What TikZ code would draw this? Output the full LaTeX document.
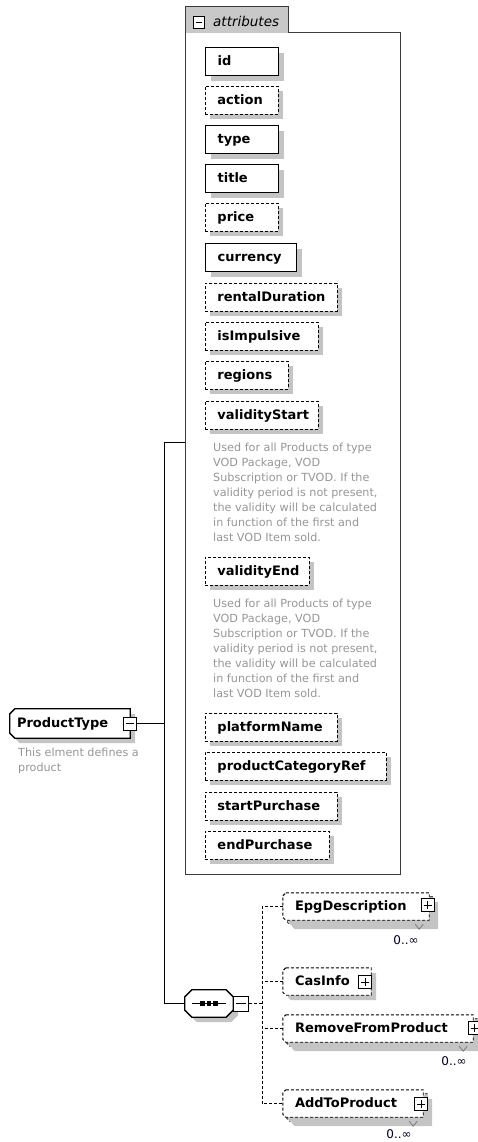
\documentclass[tikz,border=0pt]{standalone}
\usepackage{fontspec}
\setmainfont{DejaVu Sans}
\usetikzlibrary{backgrounds}

\definecolor{shadowgrey}{RGB}{196,196,196}
\definecolor{tabgrey}{RGB}{200,200,200}
\definecolor{framegrey}{RGB}{60,60,60}
\definecolor{notegrey}{RGB}{150,150,150}

% outline with the two left corners cut off, plus its drop shadow
\newcommand\leftcutshape[3]{%
  \fill[shadowgrey, transform canvas={shift={(5pt,-5pt)}}]
    ([xshift=#2]#1.north west) -- (#1.north east) -- (#1.south east) -- ([xshift=#2]#1.south west)
    -- ([yshift=#2]#1.south west) -- ([yshift=-#2]#1.north west) -- cycle;
  \path[fill=white, draw=black, #3]
    ([xshift=#2]#1.north west) -- (#1.north east) -- (#1.south east) -- ([xshift=#2]#1.south west)
    -- ([yshift=#2]#1.south west) -- ([yshift=-#2]#1.north west) -- cycle;
}
% octagonal outline (all four corners cut off), plus its drop shadow
\newcommand\allcutshape[3]{%
  \fill[shadowgrey, transform canvas={shift={(5pt,-5pt)}}]
    ([xshift=#2]#1.north west) -- ([xshift=-#2]#1.north east) -- ([yshift=-#2]#1.north east)
    -- ([yshift=#2]#1.south east) -- ([xshift=-#2]#1.south east) -- ([xshift=#2]#1.south west)
    -- ([yshift=#2]#1.south west) -- ([yshift=-#2]#1.north west) -- cycle;
  \path[fill=white, draw=black, #3]
    ([xshift=#2]#1.north west) -- ([xshift=-#2]#1.north east) -- ([yshift=-#2]#1.north east)
    -- ([yshift=#2]#1.south east) -- ([xshift=-#2]#1.south east) -- ([xshift=#2]#1.south west)
    -- ([yshift=#2]#1.south west) -- ([yshift=-#2]#1.north west) -- cycle;
}

\tikzset{
  x=1pt, y=-1pt,
  castshadow/.style={preaction={fill=shadowgrey, draw=none, transform canvas={shift={(5pt,-5pt)}}}},
  boldlabel/.style={font=\bfseries\fontsize{13}{15}\selectfont},
  attrbase/.style={fill=white, castshadow, anchor=north west, minimum height=28pt,
     inner xsep=12pt, inner ysep=0pt, text height=10pt, text depth=2pt, align=left, boldlabel},
  reqattr/.style={attrbase, draw=black, line width=1.3pt, text width=#1},
  optattr/.style={attrbase, draw=black, line width=0.9pt, dash pattern=on 3pt off 2pt, text width=#1},
  notetext/.style={anchor=north west, inner sep=0pt, align=left, text=notegrey, font=\fontsize{11.2}{15}\selectfont},
  dashline/.style={line width=0.9pt, dash pattern=on 3pt off 2pt},
  tree/.style={line width=1pt, draw=black},
  togglebox/.style={draw=black, fill=white, line width=0.8pt, minimum size=#1, inner sep=0pt},
  minus/.style={path picture={\draw[line width=0.8pt] ([xshift=2.5pt]path picture bounding box.west) -- ([xshift=-2.5pt]path picture bounding box.east);}},
  plus/.style={path picture={\draw[line width=0.8pt] ([xshift=2.5pt]path picture bounding box.west) -- ([xshift=-2.5pt]path picture bounding box.east) ([yshift=-2.5pt]path picture bounding box.north) -- ([yshift=2.5pt]path picture bounding box.south);}},
  elem/.style={rectangle, inner sep=0pt, align=left, boldlabel, text height=10pt, text depth=2pt, minimum height=27pt},
  occurs/.style={font=\fontsize{12}{13}\selectfont, inner sep=0pt, text=black!85!blue},
  multtick/.style={draw=black!55, line width=0.7pt},
}

\begin{document}
\begin{tikzpicture}
\useasboundingbox (0,0) rectangle (477,1142);

% attribute group frame with its tab
\fill[tabgrey] (185,7) rectangle (288,33);
\draw[draw=framegrey, line width=1pt] (185,7) -- (288,7) -- (288,33) -- (400,33) -- (400,874) -- (185,874) -- cycle;
\node[togglebox=11.5pt, minus] (attrtoggle) at (199,22.5) {};
\node[anchor=base west, inner sep=0pt, font=\itshape\fontsize{13.5}{15}\selectfont] (attrlabel) at (213,26.5) {attributes};

% attributes
\node[reqattr=49pt] (id) at (205,47) {id};
\node[optattr=49pt] (action) at (205,86) {action};
\node[reqattr=49pt] (type) at (205,125) {type};
\node[reqattr=49pt] (title) at (205,164) {title};
\node[optattr=49pt] (price) at (205,203) {price};
\node[reqattr=67pt] (currency) at (205,243) {currency};
\node[optattr=108pt] (rentalDuration) at (205,283) {rentalDuration};
\node[optattr=89pt] (isImpulsive) at (205,322) {isImpulsive};
\node[optattr=59pt] (regions) at (205,361) {regions};
\node[optattr=89pt] (validityStart) at (205,401) {validityStart};
\node[notetext] (validityStartNote) at (213,443) {Used for all Products of type\\VOD Package, VOD\\Subscription or TVOD. If the\\validity period is not present,\\the validity will be calculated\\in function of the first and\\last VOD Item sold.};
\node[optattr=80pt] (validityEnd) at (205,557) {validityEnd};
\node[notetext] (validityEndNote) at (213,599) {Used for all Products of type\\VOD Package, VOD\\Subscription or TVOD. If the\\validity period is not present,\\the validity will be calculated\\in function of the first and\\last VOD Item sold.};
\node[optattr=108pt] (platformName) at (205,713) {platformName};
\node[optattr=157pt] (productCategoryRef) at (205,752) {productCategoryRef};
\node[optattr=108pt] (startPurchase) at (205,792) {startPurchase};
\node[optattr=100pt] (endPurchase) at (205,831) {endPurchase};

% root element
\node[elem, minimum width=120pt, minimum height=29pt, text width=106pt] (ptype) at (70,723.5) {ProductType};
\node[togglebox=13pt, minus] (ptoggle) at (ptype.east) {};
\node[notetext] (ptypeNote) at (18,748) {This elment defines a\\product};

% sequence compositor
\node[rectangle, minimum width=48pt, minimum height=27pt, inner sep=0pt] (seq) at (209,1003.5) {};
\node[togglebox=15pt, minus, anchor=west] (seqtoggle) at (seq.east) {};
\draw[line width=1pt] ([xshift=-17pt]seq.center) -- ([xshift=17pt]seq.center);
\foreach \dx in {-6.5,0,6.5}
  \fill ([xshift=\dx pt-2.2pt, yshift=2.2pt]seq.center) rectangle ++(4.4,4.4);

% child elements (repeatable ones carry a second outline behind them)
\node[elem, minimum width=146pt] (epgback) at (360,910.5) {};
\node[elem, minimum width=146pt, text width=122pt] (epg) at (356,906.5) {EpgDescription};
\node[togglebox=13pt, plus] (epgtoggle) at (427.5,905) {};
\node[occurs] (epgocc) at (406,940) {0..∞};

\node[elem, minimum width=88pt, text width=64pt] (cas) at (327,981.5) {CasInfo};
\node[togglebox=13pt, plus] (castoggle) at (365,982) {};

\node[elem, minimum width=190pt] (rfpback) at (382,1032.5) {};
\node[elem, minimum width=190pt, text width=166pt] (rfp) at (378,1028.5) {RemoveFromProduct};
\node[togglebox=13pt, plus] (rfptoggle) at (474.5,1028) {};
\node[occurs] (rfpocc) at (454,1061) {0..∞};

\node[elem, minimum width=140pt] (atpback) at (357,1107.5) {};
\node[elem, minimum width=140pt, text width=116pt] (atp) at (353,1103.5) {AddToProduct};
\node[togglebox=13pt, plus] (atptoggle) at (421,1104) {};
\node[occurs] (atpocc) at (399,1134.5) {0..∞};

% outlines and shadows behind the labels
\begin{scope}[on background layer]
  \leftcutshape{ptype}{5pt}{line width=1.3pt}
  \allcutshape{seq}{7pt}{line width=1.3pt}
  \leftcutshape{epgback}{3pt}{dashline}
  \leftcutshape{epg}{3pt}{dashline}
  \leftcutshape{cas}{3pt}{dashline}
  \leftcutshape{rfpback}{3pt}{dashline}
  \leftcutshape{rfp}{3pt}{dashline}
  \leftcutshape{atpback}{3pt}{dashline}
  \leftcutshape{atp}{3pt}{dashline}
\end{scope}

% multiplicity ticks under the repeatable elements
\draw[multtick] ([xshift=-18pt]epgback.south east) -- ++(4,5) -- ++(4,-5);
\draw[multtick] ([xshift=-18pt]rfpback.south east) -- ++(4,5) -- ++(4,-5);
\draw[multtick] ([xshift=-18pt]atpback.south east) -- ++(4,5) -- ++(4,-5);

% tree from the root
\coordinate (jtop) at (164,442);
\coordinate (jbot) at (164,1003.5);
\coordinate (attrport) at (185,442);
\draw[tree] (ptoggle.east) -- (ptoggle.east -| jtop);
\draw[tree] (attrport) -- (jtop) -- (jbot) -- (seq.west);

% dashed branches of the sequence
\coordinate (rj) at (262,1003.5);
\draw[dashline] (seqtoggle.east) -- (rj);
\draw[dashline] (epg.west) -- (epg.west -| rj) -- (atp.west -| rj) -- (atp.west);
\draw[dashline] (cas.west) -- (cas.west -| rj);
\draw[dashline] (rfp.west) -- (rfp.west -| rj);
\end{tikzpicture}
\end{document}
